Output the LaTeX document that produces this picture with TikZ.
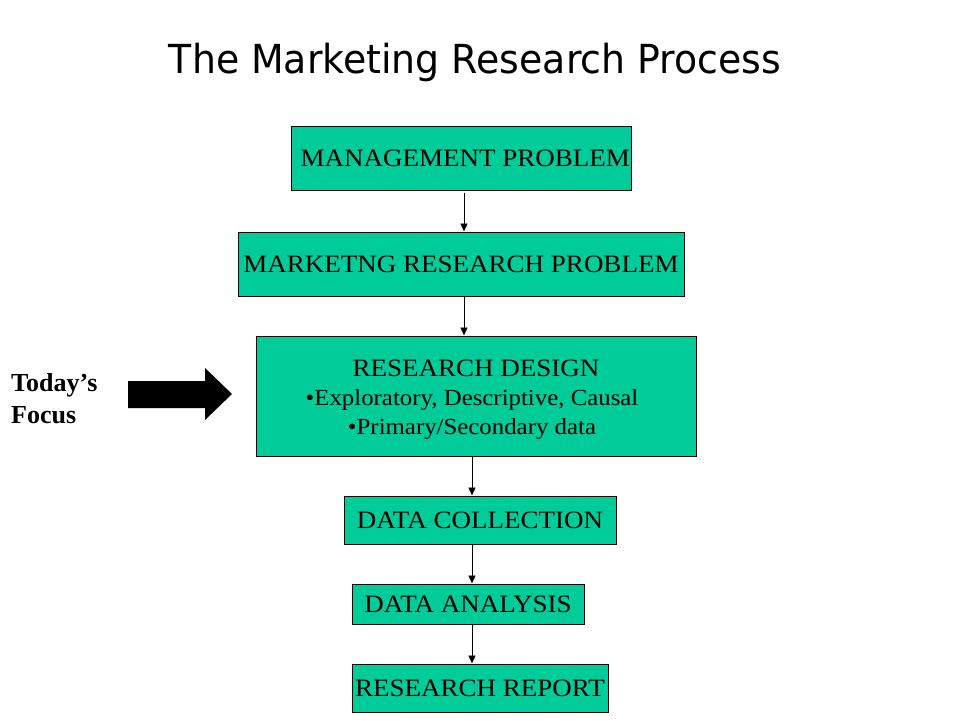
\documentclass[tikz,border=0pt]{standalone}
\usepackage{fontspec}
\setmainfont{Liberation Serif}
\newfontfamily\titlefont{DejaVu Sans}
\usetikzlibrary{arrows.meta}
\definecolor{boxgreen}{RGB}{0,204,153}
\newcommand{\wide}[1]{\scalebox{1.08}[1]{#1}}
\begin{document}
\begin{tikzpicture}[x=1pt,y=-1pt,
  procbox/.style={draw=black,line width=1pt,fill=boxgreen,inner sep=0pt,align=center,
    font=\fontsize{25}{29}\selectfont},
  bullettext/.style={anchor=base,inner sep=0pt,font=\fontsize{23}{29}\selectfont},
  flow/.style={draw=black,line width=0.9pt,-{Triangle[length=8pt,width=7pt]}}]
\useasboundingbox (0,0) rectangle (960,720);
\fill[white] (0,0) rectangle (960,720);
\node[anchor=base,inner sep=0pt,font=\titlefont\fontsize{40}{44}\selectfont] (title) at (475,73) {\scalebox{0.946}[1]{The Marketing Research Process}};
\node[procbox,minimum width=340pt,minimum height=64pt] (mgmt) at (461,158) {\wide{\hspace*{8pt}MANAGEMENT PROBLEM}};
\node[procbox,minimum width=446pt,minimum height=64pt] (mrp) at (461,264) {\wide{MARKETNG RESEARCH PROBLEM}};
\node[procbox,minimum width=440pt,minimum height=120pt] (rd) at (476,396) {};
\node[anchor=base,inner sep=0pt,font=\fontsize{25}{29}\selectfont] (rdhead) at (476,376) {\wide{RESEARCH DESIGN}};
\node[bullettext] (rdb1) at (472,405) {\wide{•Exploratory, Descriptive, Causal}};
\node[bullettext] (rdb2) at (472,434) {\wide{•Primary/Secondary data}};
\node[procbox,minimum width=272pt,minimum height=48pt] (dc) at (480,520) {\wide{DATA COLLECTION}};
\node[procbox,minimum width=232pt,minimum height=40pt] (da) at (468,604) {\wide{DATA ANALYSIS}};
\node[procbox,minimum width=256pt,minimum height=48pt] (rr) at (480,688) {\wide{RESEARCH REPORT}};
\draw[flow] ([xshift=3pt,yshift=-2pt]mgmt.south) -- ([xshift=3pt]mgmt.south |- mrp.north);
\draw[flow] ([xshift=3pt]mrp.south) -- ([xshift=3pt]mrp.south |- rd.north);
\draw[flow] ([xshift=-4pt]rd.south) -- ([xshift=-4pt]rd.south |- dc.north);
\draw[flow] ([xshift=-8pt]dc.south) -- ([xshift=-8pt]dc.south |- da.north);
\draw[flow] ([xshift=4pt]da.south) -- ([xshift=4pt]da.south |- rr.north);
\fill[black] (128,381) -- (205,381) -- (205,368) -- (232,394) -- (205,420) -- (205,408) -- (128,408) -- cycle;
\node[anchor=base west,inner sep=0pt,font=\bfseries\fontsize{26}{32}\selectfont] (today) at (11,391) {Today’s};
\node[anchor=base west,inner sep=0pt,font=\bfseries\fontsize{26}{32}\selectfont] (focus) at (11,423) {Focus};
\end{tikzpicture}
\end{document}
